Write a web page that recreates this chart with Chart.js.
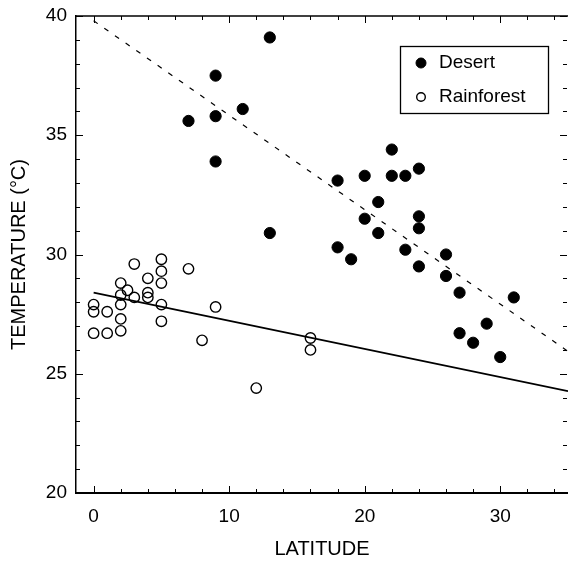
<!DOCTYPE html>
<html lang="en">
<head>
    <meta charset="UTF-8">
    <title>Temperature vs Latitude</title>
    <script src="https://cdn.jsdelivr.net/npm/chart.js"></script>
    <style>
        body { margin: 0; background: #fff; }
        #wrap { width: 568px; height: 561px; }
    </style>
</head>
<body>
    <div id="wrap"><canvas id="chart" width="568" height="561"></canvas></div>

    <script>
        // data
        const desertLat  = [13, 9, 11, 7, 9, 9, 13, 22, 18, 20, 22, 23, 24, 21, 20, 24, 24, 21, 18, 23, 19, 26, 24, 26, 27, 31, 29, 27, 28, 30];
        const desertTemp = [39.1, 37.5, 36.1, 35.6, 35.8, 33.9, 30.9, 34.4, 33.1, 33.3, 33.3, 33.3, 33.6, 32.2, 31.5, 31.6, 31.1, 30.9, 30.3, 30.2, 29.8, 30.0, 29.5, 29.1, 28.4, 28.2, 27.1, 26.7, 26.3, 25.7];

        const rainLat  = [0, 0, 0, 1, 1, 2, 2, 2, 2, 2, 2.5, 3, 3, 4, 4, 4, 5, 5, 5, 5, 5, 7, 9, 8, 12, 16, 16];
        const rainTemp = [27.9, 27.6, 26.7, 27.6, 26.7, 28.8, 28.3, 27.9, 27.3, 26.8, 28.5, 29.6, 28.2, 29.0, 28.4, 28.2, 29.8, 29.3, 28.8, 27.9, 27.2, 29.4, 27.8, 26.4, 24.4, 26.5, 26.0];

        // regression lines: [intercept, slope]
        const desertFit = [39.8, -0.396];
        const rainFit   = [28.4, -0.118];
        const fitRange  = [0, 35];

        const xTickLabels = [0, 10, 20, 30];
        const yTickLabels = [20, 25, 30, 35, 40];

        const FONT = "'Liberation Sans', Arial, sans-serif";

        const toPoints = (xs, ys) => xs.map((x, i) => ({ x: x, y: ys[i] }));
        const fitLine = f => fitRange.map(x => ({ x: x, y: f[0] + f[1] * x }));

        // inward ticks on all four sides, plus top frame line
        const frameTicks = {
            id: 'frameTicks',
            afterDraw(chart) {
                const { ctx, chartArea: a, scales: { x, y } } = chart;
                ctx.save();
                ctx.strokeStyle = '#000';
                ctx.lineWidth = 1.3;
                ctx.beginPath();
                ctx.moveTo(a.left, a.top);
                ctx.lineTo(a.right, a.top);
                ctx.stroke();
                ctx.lineWidth = 1;
                for (let v = 0; v <= 34; v += 2) {
                    const px = Math.round(x.getPixelForValue(v)) + 0.5;
                    const len = v % 10 === 0 ? 7 : 4;
                    ctx.beginPath();
                    ctx.moveTo(px, a.bottom); ctx.lineTo(px, a.bottom - len);
                    ctx.moveTo(px, a.top); ctx.lineTo(px, a.top + len);
                    ctx.stroke();
                }
                for (let v = 20; v <= 40; v += 1) {
                    const py = Math.round(y.getPixelForValue(v)) + 0.5;
                    const len = v % 5 === 0 ? 7 : 4;
                    ctx.beginPath();
                    ctx.moveTo(a.left, py); ctx.lineTo(a.left + len, py);
                    ctx.moveTo(a.right - 1, py); ctx.lineTo(a.right - 1 - len, py);
                    ctx.stroke();
                }
                ctx.restore();
            }
        };

        // boxed legend inside the plot
        const boxLegend = {
            id: 'boxLegend',
            afterDraw(chart) {
                const ctx = chart.ctx;
                const items = chart.data.datasets.filter(d => d.showInLegend);
                ctx.save();
                ctx.strokeStyle = '#000';
                ctx.lineWidth = 1.3;
                ctx.strokeRect(400.5, 46.5, 148, 67);
                ctx.font = '19px ' + FONT;
                ctx.textBaseline = 'middle';
                items.forEach((d, i) => {
                    const cy = 63 + i * 34;
                    ctx.beginPath();
                    ctx.arc(421, cy, d.legendRadius, 0, Math.PI * 2);
                    ctx.fillStyle = d.backgroundColor;
                    ctx.fill();
                    ctx.lineWidth = d.borderWidth;
                    ctx.strokeStyle = '#000';
                    ctx.stroke();
                    ctx.fillStyle = '#000';
                    ctx.fillText(d.label, 439, cy);
                });
                ctx.restore();
            }
        };

        new Chart(document.getElementById('chart'), {
            type: 'scatter',
            data: {
                datasets: [
                    {
                        label: 'Desert',
                        data: toPoints(desertLat, desertTemp),
                        backgroundColor: '#000',
                        borderColor: '#000',
                        borderWidth: 1,
                        pointRadius: 5.6,
                        showInLegend: true,
                        legendRadius: 5
                    },
                    {
                        label: 'Rainforest',
                        data: toPoints(rainLat, rainTemp),
                        backgroundColor: 'rgba(255,255,255,0)',
                        borderColor: '#000',
                        borderWidth: 1.4,
                        pointRadius: 5.2,
                        showInLegend: true,
                        legendRadius: 4.3
                    },
                    {
                        label: 'Desert fit',
                        type: 'line',
                        data: fitLine(desertFit),
                        borderColor: '#000',
                        borderWidth: 1.2,
                        borderDash: [5, 8],
                        pointRadius: 0,
                        fill: false
                    },
                    {
                        label: 'Rainforest fit',
                        type: 'line',
                        data: fitLine(rainFit),
                        borderColor: '#000',
                        borderWidth: 1.8,
                        pointRadius: 0,
                        fill: false
                    }
                ]
            },
            options: {
                responsive: false,
                animation: false,
                layout: { autoPadding: false, padding: { top: 16, right: 0, left: 0, bottom: 0 } },
                plugins: {
                    legend: { display: false },
                    tooltip: { enabled: false }
                },
                scales: {
                    x: {
                        type: 'linear',
                        min: -1.3,
                        max: 35,
                        afterFit: s => { s.height = 68; s.paddingLeft = 0; s.paddingRight = 0; },
                        afterBuildTicks: s => { s.ticks = xTickLabels.map(v => ({ value: v })); },
                        grid: { display: false, drawTicks: false },
                        border: { display: true, color: '#000', width: 2 },
                        ticks: { color: '#000', padding: 12, font: { family: FONT, size: 19 } },
                        title: {
                            display: true,
                            text: 'LATITUDE',
                            color: '#000',
                            padding: { top: 0, bottom: 0 },
                            font: { family: FONT, size: 20 }
                        }
                    },
                    y: {
                        min: 20,
                        max: 40,
                        afterFit: s => { s.width = 76; s.paddingTop = 0; s.paddingBottom = 0; },
                        afterBuildTicks: s => { s.ticks = yTickLabels.map(v => ({ value: v })); },
                        grid: { display: false, drawTicks: false },
                        border: { display: true, color: '#000', width: 1.5 },
                        ticks: { color: '#000', padding: 9, font: { family: FONT, size: 19 } },
                        title: {
                            display: true,
                            text: 'TEMPERATURE (°C)',
                            color: '#000',
                            padding: { top: 7, bottom: 0 },
                            font: { family: FONT, size: 20 }
                        }
                    }
                }
            },
            plugins: [frameTicks, boxLegend]
        });
    </script>
</body>
</html>
